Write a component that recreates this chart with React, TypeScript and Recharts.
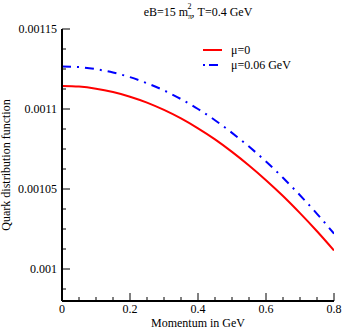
import { LineChart, Line, XAxis, YAxis, Legend } from 'recharts';

const momentum = [0, 0.05, 0.1, 0.15, 0.2, 0.25, 0.3, 0.35, 0.4, 0.45, 0.5, 0.55, 0.6, 0.65, 0.7, 0.75, 0.8];
const muZero = [
  0.0011144, 0.001114, 0.0011127, 0.0011106, 0.0011077, 0.001104, 0.0010994, 0.0010941, 0.0010879,
  0.001081, 0.0010732, 0.0010647, 0.0010555, 0.0010456, 0.0010349, 0.0010236, 0.0010116,
];
const muSix = [
  0.0011266, 0.0011262, 0.0011249, 0.0011228, 0.0011199, 0.0011161, 0.0011116, 0.0011062, 0.0011,
  0.001093, 0.0010851, 0.0010765, 0.0010672, 0.001057, 0.0010461, 0.0010345, 0.0010221,
];

const xTicks = [0, 0.05, 0.1, 0.15, 0.2, 0.25, 0.3, 0.35, 0.4, 0.45, 0.5, 0.55, 0.6, 0.65, 0.7, 0.75, 0.8];
const xMajor = [0, 0.2, 0.4, 0.6, 0.8];
const xLabels = ['0', '0.2', '0.4', '0.6', '0.8'];
const yTicks = [
  0.0009875, 0.001, 0.0010125, 0.001025, 0.0010375, 0.00105, 0.0010625, 0.001075, 0.0010875, 0.0011,
  0.0011125, 0.001125, 0.0011375, 0.00115,
];
const yMajor = [0.001, 0.00105, 0.0011, 0.00115];
const yLabels = ['0.001', '0.00105', '0.0011', '0.00115'];

const data = momentum.map((p, i) => ({ p, a: muZero[i], b: muSix[i] }));

const txt = { fontFamily: '"Liberation Serif", "DejaVu Serif", serif', fontSize: 12, fill: '#000' };

const majorIndex = (list: number[], v: number, eps: number) =>
  list.findIndex((m) => Math.abs(m - v) < eps);

// eslint-disable-next-line @typescript-eslint/no-explicit-any
function BottomTick(props: any) {
  const { x, y, payload } = props;
  const k = majorIndex(xMajor, payload.value, 1e-6);
  return (
    <g>
      <line x1={x} x2={x} y1={y} y2={y - (k >= 0 ? 8 : 4)} stroke="#000" />
      {k >= 0 && (
        <text x={x} y={y + 12} textAnchor="middle" style={txt}>
          {xLabels[k]}
        </text>
      )}
    </g>
  );
}

// eslint-disable-next-line @typescript-eslint/no-explicit-any
function TopTick(props: any) {
  const { x, y, payload } = props;
  const k = majorIndex(xMajor, payload.value, 1e-6);
  return <line x1={x} x2={x} y1={y} y2={y + (k >= 0 ? 8 : 4)} stroke="#000" />;
}

// eslint-disable-next-line @typescript-eslint/no-explicit-any
function LeftTick(props: any) {
  const { x, y, payload } = props;
  const k = majorIndex(yMajor, payload.value, 1e-10);
  return (
    <g>
      <line x1={x} x2={x + (k >= 0 ? 8 : 4)} y1={y} y2={y} stroke="#000" />
      {k >= 0 && (
        <text x={x - 5} y={y + 4} textAnchor="end" style={txt}>
          {yLabels[k]}
        </text>
      )}
    </g>
  );
}

// eslint-disable-next-line @typescript-eslint/no-explicit-any
function RightTick(props: any) {
  const { x, y, payload } = props;
  const k = majorIndex(yMajor, payload.value, 1e-10);
  return <line x1={x} x2={x - (k >= 0 ? 8 : 4)} y1={y} y2={y} stroke="#000" />;
}

function LegendBox() {
  return (
    <svg width={130} height={32} style={{ display: 'block' }}>
      <line x1={3} x2={22} y1={7} y2={7} stroke="#ff0000" strokeWidth={2} />
      <text x={31} y={11} style={txt}>μ=0</text>
      <line x1={3} x2={22} y1={22} y2={22} stroke="#0000ff" strokeWidth={2} strokeDasharray="2 4 9 6" />
      <text x={31} y={26} style={txt}>μ=0.06 GeV</text>
    </svg>
  );
}

export default function App() {
  return (
    <div style={{ position: 'absolute', left: 0, top: 0, width: 343, height: 330, background: '#fff' }}>
      <LineChart width={343} height={330} data={data} margin={{ top: 29, right: 9, bottom: 0, left: 0 }}>
        <XAxis
          xAxisId="b"
          dataKey="p"
          type="number"
          domain={[0, 0.8]}
          allowDataOverflow
          ticks={xTicks}
          interval={0}
          height={29}
          tickSize={0}
          tickMargin={0}
          tickLine={false}
          axisLine={{ stroke: '#000', strokeWidth: 2 }}
          tick={BottomTick}
          label={(lp: any) => {
            const vb = lp.viewBox;
            return (
              <text x={vb.x + vb.width / 2} y={vb.y + 26} textAnchor="middle" style={txt}>
                Momentum in GeV
              </text>
            );
          }}
        />
        <XAxis
          xAxisId="t"
          orientation="top"
          type="number"
          domain={[0, 0.8]}
          allowDataOverflow
          ticks={xTicks}
          interval={0}
          height={0}
          tickSize={0}
          tickMargin={0}
          tickLine={false}
          axisLine={{ stroke: '#000', strokeWidth: 2 }}
          tick={TopTick}
        />
        <YAxis
          yAxisId="l"
          type="number"
          domain={[0.00098, 0.00115]}
          allowDataOverflow
          ticks={yTicks}
          interval={0}
          width={62}
          tickSize={0}
          tickMargin={0}
          tickLine={false}
          axisLine={{ stroke: '#000', strokeWidth: 2 }}
          tick={LeftTick}
          label={(lp: any) => {
            const vb = lp.viewBox;
            const cy = vb.y + vb.height / 2;
            return (
              <text x={10} y={cy} transform={`rotate(-90 10 ${cy})`} textAnchor="middle" style={txt}>
                Quark distribution function
              </text>
            );
          }}
        />
        <YAxis
          yAxisId="r"
          orientation="right"
          type="number"
          domain={[0.00098, 0.00115]}
          allowDataOverflow
          ticks={yTicks}
          interval={0}
          width={0}
          tickSize={0}
          tickMargin={0}
          tickLine={false}
          axisLine={{ stroke: '#000', strokeWidth: 2 }}
          tick={RightTick}
        />
        <Legend
          layout="vertical"
          align="center"
          verticalAlign="middle"
          content={LegendBox}
          wrapperStyle={{ left: 200, top: 43, width: 130 }}
        />
        <Line
          xAxisId="b"
          yAxisId="l"
          dataKey="a"
          stroke="#ff0000"
          strokeWidth={2}
          dot={false}
          type="monotone"
          isAnimationActive={false}
        />
        <Line
          xAxisId="b"
          yAxisId="l"
          dataKey="b"
          stroke="#0000ff"
          strokeWidth={2}
          strokeDasharray="9 6 2 6"
          dot={false}
          type="monotone"
          isAnimationActive={false}
        />
      </LineChart>
      <svg width={343} height={26} style={{ position: 'absolute', left: 0, top: 0, pointerEvents: 'none' }}>
        <text x={198} y={16} textAnchor="middle" style={txt}>
          eB=15 m
          <tspan dy={3} fontSize={8}>π</tspan>
          <tspan dx={-4.5} dy={-10} fontSize={8}>2</tspan>
          <tspan dy={7}>, T=0.4 GeV</tspan>
        </text>
      </svg>
    </div>
  );
}
